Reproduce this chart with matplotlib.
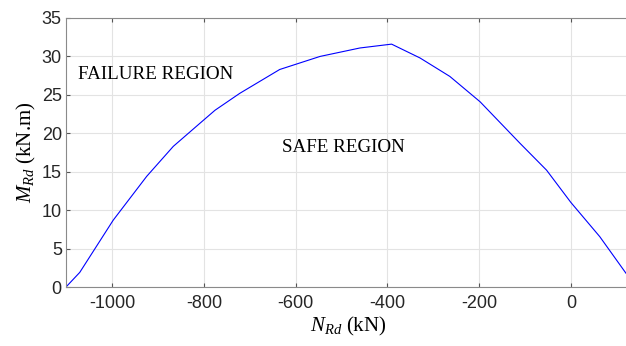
import matplotlib
matplotlib.use("Agg")
import matplotlib.pyplot as plt

# Interaction curve N_Rd x M_Rd
n_rd = [-1101, -1071, -998, -925, -867, -809, -776, -722, -635, -547,
        -460, -391, -329, -264, -198, -111, -53, 0, 63, 120]
m_rd = [0.0, 1.9, 8.7, 14.4, 18.3, 21.3, 23.0, 25.2, 28.3, 30.0,
        31.1, 31.6, 29.8, 27.4, 24.1, 18.7, 15.2, 11.0, 6.55, 1.8]

x_ticks = [-1000, -800, -600, -400, -200, 0]
y_ticks = [0, 5, 10, 15, 20, 25, 30, 35]

plt.rcParams['mathtext.fontset'] = 'custom'
plt.rcParams['mathtext.it'] = 'Liberation Serif:italic'
plt.rcParams['mathtext.rm'] = 'Liberation Serif'
plt.rcParams['axes.unicode_minus'] = False

fig = plt.figure(figsize=(6.26, 3.46), dpi=100)
ax = fig.add_axes([66 / 626, 59 / 346, 564.5 / 626, 269 / 346])

ax.plot(n_rd, m_rd, color='#0000ff', lw=0.8)

ax.set_xlim(-1101, 130)
ax.set_ylim(0, 35)
ax.set_xticks(x_ticks)
ax.set_yticks(y_ticks)
ax.grid(True, color='#e3e3e3', lw=0.8)
ax.set_axisbelow(True)

for s in ax.spines.values():
    s.set_color('#8a8a8a')
    s.set_linewidth(0.8)
ax.tick_params(direction='in', top=True, right=True, length=3,
               color='#555555', labelsize=13, labelcolor='#262626')
ax.tick_params(axis='x', pad=6)
ax.tick_params(axis='y', pad=3)
for lab in ax.get_xticklabels() + ax.get_yticklabels():
    lab.set_family('Liberation Sans')

ax.set_xlabel(r'$N_{Rd}$ (kN)', family='Liberation Serif', fontsize=15, labelpad=2)
ax.set_ylabel(r'$M_{Rd}$ (kN.m)', family='Liberation Serif', fontsize=15, labelpad=3)

ax.text(-1075, 27.6, 'FAILURE REGION', family='Liberation Serif', fontsize=13.7,
        va='center', ha='left')
ax.text(-630, 18.1, 'SAFE REGION', family='Liberation Serif', fontsize=13.7,
        va='center', ha='left')

fig.savefig('out.png', dpi=100)
